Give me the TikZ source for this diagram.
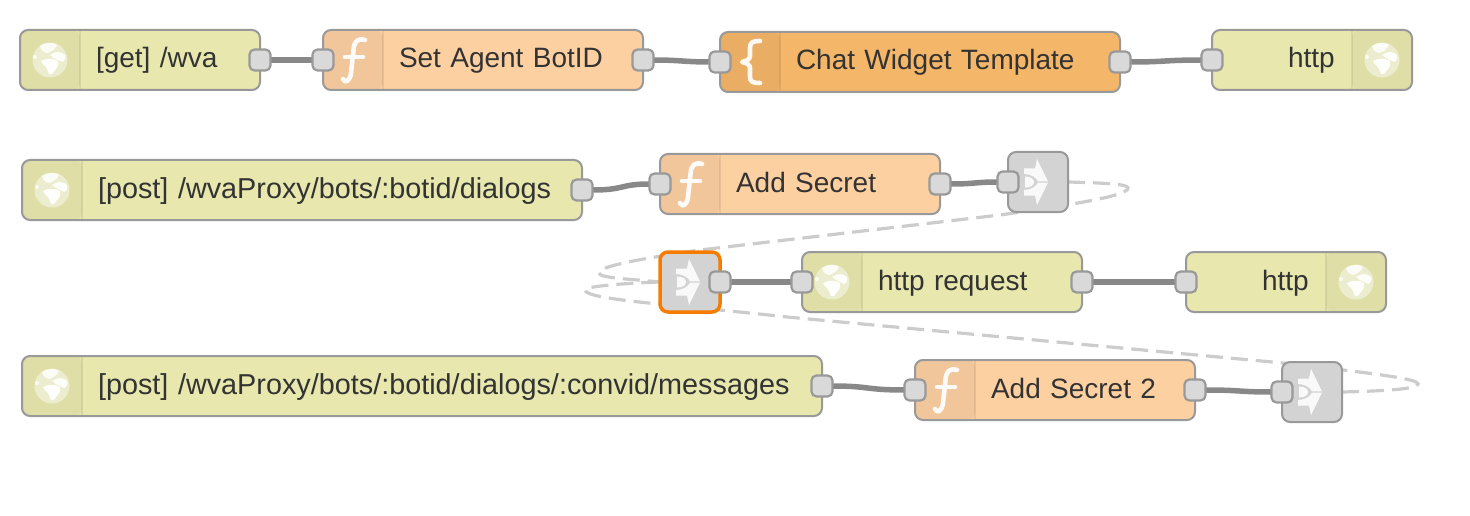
\documentclass[tikz,border=0pt]{standalone}
\usepackage{fontspec}
\setmainfont{Liberation Sans}
\usetikzlibrary{backgrounds}
\definecolor{httpfill}{HTML}{E7E7AE}
\definecolor{httpicon}{HTML}{DEDEA6}
\definecolor{funcfill}{HTML}{FDD0A2}
\definecolor{funcicon}{HTML}{F2C69B}
\definecolor{tmplfill}{HTML}{F4B668}
\definecolor{tmplicon}{HTML}{E9AD63}
\definecolor{linkfill}{HTML}{D3D3D3}
\definecolor{nodeline}{HTML}{999999}
\definecolor{portfill}{HTML}{D9D9D9}
\definecolor{wirecol}{HTML}{888888}
\definecolor{dashcol}{HTML}{CCCCCC}
\definecolor{selcol}{HTML}{F57C00}
\definecolor{inkcol}{HTML}{333333}
\tikzset{
  boxbase/.style={draw=nodeline,line width=2pt,rounded corners=8pt,anchor=north west,outer sep=0pt,
    minimum height=60pt,inner sep=0pt,align=left,text=inkcol,
    font=\fontsize{28}{30}\selectfont,text height=21.5pt,text depth=5.5pt},
  iconleft/.style={path picture={
    \fill[#1] (path picture bounding box.north west) rectangle ([xshift=60pt]path picture bounding box.south west);
    \draw[black,opacity=.07,line width=1.5pt] ([xshift=60pt]path picture bounding box.north west) -- ([xshift=60pt]path picture bounding box.south west);}},
  iconright/.style={path picture={
    \fill[#1] (path picture bounding box.north east) rectangle ([xshift=-60pt]path picture bounding box.south east);
    \draw[black,opacity=.07,line width=1.5pt] ([xshift=-60pt]path picture bounding box.north east) -- ([xshift=-60pt]path picture bounding box.south east);}},
  httpbox/.style={boxbase,fill=httpfill},
  longtext/.style={font=\fontsize{28.8}{30}\selectfont},
  funcbox/.style={boxbase,fill=funcfill,iconleft=funcicon},
  tmplbox/.style={boxbase,fill=tmplfill,iconleft=tmplicon},
  linkbox/.style={draw=nodeline,line width=2pt,rounded corners=8pt,anchor=north west,outer sep=0pt,
    minimum width=60pt,minimum height=60pt,inner sep=0pt,fill=linkfill},
  selected/.style={draw=selcol,line width=3.5pt},
  portbox/.style={draw=nodeline,line width=2.2pt,rounded corners=5pt,fill=portfill,outer sep=0pt,
    minimum width=21pt,minimum height=21pt,inner sep=0pt},
  wire/.style={draw=wirecol,line width=5.5pt},
  linkwire/.style={draw=dashcol,line width=3.2pt,dash pattern=on 17pt off 8pt},
  glyph/.style={draw=white,line width=4.6pt,line cap=round,line join=round,opacity=.92},
  glyphfill/.style={fill=white,opacity=.88},
}
\newcommand{\flowtext}[1]{\hspace*{76pt}#1}
\newcommand{\globeicon}[1]{%
  \begin{scope}[shift={(#1)}]
    \fill[white,opacity=.45] (0,0) circle (17.5);
    \fill[white,opacity=.85] (-10,-14) .. controls (-4,-18) and (4,-18) .. (7,-15) .. controls (5,-10) and (0,-8) .. (-3,-7) .. controls (-7,-8) and (-9,-10) .. (-10,-14) -- cycle;
    \fill[white,opacity=.95] (-9,1) .. controls (-4,-2) and (4,-2) .. (8,1) .. controls (9,5) and (7,9) .. (4,11) .. controls (3,14) and (1,15) .. (-1,14) .. controls (-3,10) and (-3,7) .. (-5,6) .. controls (-7,5) and (-8,3) .. (-9,1) -- cycle;
    \fill[white,opacity=.9] (0,-5) .. controls (5,-9) and (11,-9) .. (15,-5) .. controls (16,-2) and (15,1) .. (12,2) .. controls (9,0) and (4,-1) .. (0,-5) -- cycle;
    \fill[white,opacity=.8] (-15,-3) circle (2);
  \end{scope}}
\newcommand{\fglyph}[1]{%
  \begin{scope}[shift={(#1)}]
    \draw[glyph] (42,10) .. controls (35,8) and (31,11) .. (30.5,20) -- (28,43) .. controls (27,51) and (22,54) .. (20,49);
    \draw[glyph] (22,27) -- (40,27);
  \end{scope}}
\newcommand{\bracketglyph}[1]{%
  \begin{scope}[shift={(#1)}]
    \draw[glyph] (40,9) .. controls (33,9) and (30,10) .. (30,16) -- (30,24) .. controls (30,27) and (27,29) .. (22,30) .. controls (27,31) and (30,33) .. (30,36) -- (30,45) .. controls (30,50) and (33,51) .. (40,51);
  \end{scope}}
\newcommand{\linkglyph}[1]{%
  \begin{scope}[shift={(#1)}]
    \fill[glyphfill] (16,16.5) -- (27,16.5) -- (29,7) -- (40,29.4) -- (30,29.4) .. controls (28,26) and (25,22.5) .. (16,22) -- cycle;
    \fill[glyphfill] (16,43.5) -- (27,43.5) -- (29,53) -- (40,30.6) -- (30,30.6) .. controls (28,34) and (25,37.5) .. (16,38) -- cycle;
    \fill[glyphfill] (17,24.5) .. controls (23,24.5) and (26,27) .. (26,30) .. controls (26,33) and (23,35.5) .. (17,35.5) -- cycle;
  \end{scope}}
\begin{document}
\begin{tikzpicture}[x=1pt,y=-1pt]
\useasboundingbox (0,0) rectangle (1470,516);
% boxes
\node[httpbox,iconleft=httpicon,text width=240pt] (get) at (20,30) {\flowtext{[get] /wva}};
\node[funcbox,text width=320pt] (agent) at (323,30) {\flowtext{Set Agent BotID}};
\node[tmplbox,text width=400pt] (chat) at (720,32) {\flowtext{Chat Widget Template}};
\node[httpbox,iconright=httpicon,text width=200pt] (resp) at (1212,30) {\flowtext{http}};
\node[httpbox,longtext,iconleft=httpicon,text width=560pt] (post) at (22,160) {\flowtext{[post] /wvaProxy/bots/:botid/dialogs}};
\node[funcbox,text width=280pt] (secret) at (660,154) {\flowtext{Add Secret}};
\node[linkbox] (outa) at (1008,152) {};
\node[linkbox,selected] (linkin) at (660,252) {};
\node[httpbox,iconleft=httpicon,text width=280pt] (req) at (802,252) {\flowtext{http request}};
\node[httpbox,iconright=httpicon,text width=200pt] (respb) at (1186,252) {\flowtext{http}};
\node[httpbox,longtext,iconleft=httpicon,text width=800pt] (postb) at (22,356) {\flowtext{[post] /wvaProxy/bots/:botid/dialogs/:convid/messages}};
\node[funcbox,text width=280pt] (secretb) at (915,360) {\flowtext{Add Secret 2}};
\node[linkbox] (outb) at (1282,362) {};
% icons
\globeicon{50,60}
\fglyph{323,30}
\bracketglyph{720,32}
\globeicon{1382,60}
\globeicon{52,190}
\fglyph{660,154}
\linkglyph{1008,152}
\linkglyph{660,252}
\globeicon{832,282}
\globeicon{1356,282}
\globeicon{52,386}
\fglyph{915,360}
\linkglyph{1282,362}
% ports
\node[portbox] (get-o) at (get.east) {};
\node[portbox] (agent-i) at (agent.west) {};
\node[portbox] (agent-o) at (agent.east) {};
\node[portbox] (chat-i) at (chat.west) {};
\node[portbox] (chat-o) at (chat.east) {};
\node[portbox] (resp-i) at (resp.west) {};
\node[portbox] (post-o) at (post.east) {};
\node[portbox] (secret-i) at (secret.west) {};
\node[portbox] (secret-o) at (secret.east) {};
\node[portbox] (outa-i) at (outa.west) {};
\node[portbox] (linkin-o) at (linkin.east) {};
\node[portbox] (req-i) at (req.west) {};
\node[portbox] (req-o) at (req.east) {};
\node[portbox] (respb-i) at (respb.west) {};
\node[portbox] (postb-o) at (postb.east) {};
\node[portbox] (secretb-i) at (secretb.west) {};
\node[portbox] (secretb-o) at (secretb.east) {};
\node[portbox] (outb-i) at (outb.west) {};
% connectors
\begin{scope}[on background layer]
  \draw[linkwire] (outa.east) .. controls (1105,183) and (1128,184) .. (1128,188)
     .. controls (1128,195) and (1085,203) .. (1000,215)
     -- (700,250)
     .. controls (640,259) and (599,266) .. (599,273)
     .. controls (599,278) and (630,279) .. (linkin.west);
  \draw[linkwire] (outb.east) .. controls (1385,391) and (1418,389) .. (1418,384)
     .. controls (1418,379) and (1380,374) .. (1283,363)
     -- (787,317)
     .. controls (680,305) and (585,300) .. (585,290)
     .. controls (585,286) and (630,283) .. (linkin.west);
  \draw[wire] (get-o.east) -- (agent-i.west);
  \draw[wire] (agent-o.east) .. controls (680,60) and (685,62) .. (chat-i.west);
  \draw[wire] (chat-o.east) .. controls (1165,62) and (1165,60) .. (resp-i.west);
  \draw[wire] (post-o.east) .. controls (625,190) and (620,184) .. (secret-i.west);
  \draw[wire] (secret-o.east) .. controls (975,184) and (975,182) .. (outa-i.west);
  \draw[wire] (linkin-o.east) -- (req-i.west);
  \draw[wire] (req-o.east) -- (respb-i.west);
  \draw[wire] (postb-o.east) .. controls (870,386) and (865,390) .. (secretb-i.west);
  \draw[wire] (secretb-o.east) .. controls (1240,390) and (1240,392) .. (outb-i.west);
\end{scope}
\end{tikzpicture}
\end{document}
